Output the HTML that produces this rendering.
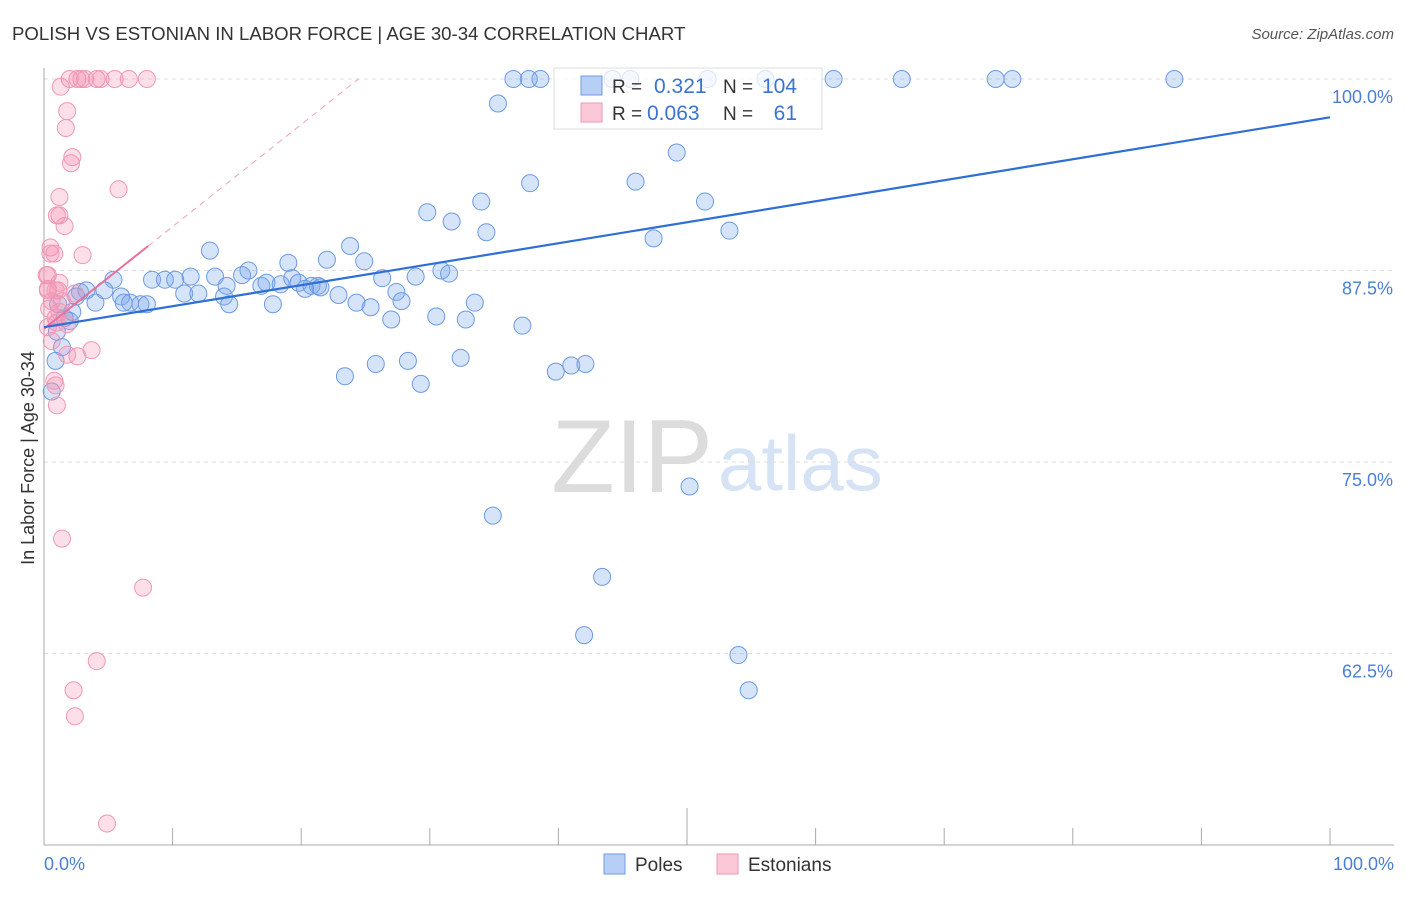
<!DOCTYPE html>
<html><head><meta charset="utf-8"><style>
body{margin:0;background:#fff;font-family:"Liberation Sans",sans-serif;}
svg text{font-family:"Liberation Sans",sans-serif;}
</style></head><body>
<svg id="chart" width="1406" height="892">
<text x="12" y="40" font-size="18.6" fill="#333">POLISH VS ESTONIAN IN LABOR FORCE | AGE 30-34 CORRELATION CHART</text>
<text x="1394" y="39" font-size="15" fill="#555" font-style="italic" text-anchor="end">Source: ZipAtlas.com</text>
<text x="713" y="492" font-size="104" fill="#dcdcdc" font-family="Liberation Serif" text-anchor="end">ZIP</text>
<text x="718" y="490" font-size="78" fill="#d6e3f5">atlas</text>
<g id="grid"></g>
<line x1="44" y1="68" x2="44" y2="845" stroke="#aaa"/>
<line x1="44" y1="845" x2="1394" y2="845" stroke="#aaa"/>
<text x="34" y="458" font-size="18" fill="#333" text-anchor="middle" transform="rotate(-90 34 458)">In Labor Force | Age 30-34</text>
<text x="44" y="870" font-size="18" fill="#4a7fd4">0.0%</text>
<text x="1394" y="870" font-size="18" fill="#4a7fd4" text-anchor="end">100.0%</text>
<g id="pts"></g>
<g id="trends"></g>
<g>
<rect x="554" y="68" width="268" height="61" fill="rgba(255,255,255,0.75)" stroke="#ddd"/>
<rect x="581" y="76" width="21" height="19" fill="#b7cff5" stroke="#6d9be3"/>
<rect x="581" y="103" width="21" height="19" fill="#fbc8d8" stroke="#f097b5"/>
<text x="612" y="93" font-size="19" fill="#333">R =</text>
<text x="654" y="93" font-size="21" fill="#3b73d1">0.321</text>
<text x="723" y="93" font-size="19" fill="#333">N =</text>
<text x="797" y="93" font-size="21" fill="#3b73d1" text-anchor="end">104</text>
<text x="612" y="120" font-size="19" fill="#333">R =</text>
<text x="647" y="120" font-size="21" fill="#3b73d1">0.063</text>
<text x="723" y="120" font-size="19" fill="#333">N =</text>
<text x="797" y="120" font-size="21" fill="#3b73d1" text-anchor="end">61</text>
</g>
<g>
<rect x="604" y="854" width="21" height="20" fill="#b7cff5" stroke="#6d9be3"/>
<text x="635" y="871" font-size="19" fill="#333">Poles</text>
<rect x="717" y="854" width="21" height="20" fill="#fbc8d8" stroke="#f097b5"/>
<text x="748" y="871" font-size="19" fill="#333">Estonians</text>
</g>
</svg>
<script>
const yTicks=[100,87.5,75,62.5];
const yTickLabels=["100.0%","87.5%","75.0%","62.5%"];
const xTicks=[0,10,20,30,40,50,60,70,80,90,100];
const polesX=[36.5,37.7,38.6,44.2,45.6,51.6,56.1,61.4,66.7,74,75.3,87.9,35.3,49.2,46,37.8,51.4,29.8,34,31.7,34.4,53.3,47.4,12.9,23.8,22,24.9,19,15.9,30.9,31.5,11.4,13.3,15.4,28.9,26.3,8.4,9.4,10.2,5.4,14.2,16.9,17.3,18.4,19.3,19.8,20.8,21.3,20.3,21.5,22.9,27.4,33.5,10.9,12,14,14.4,17.8,24.3,25.4,27.8,30.5,32.8,27,37.2,1,2,2.2,1.1,2.8,3.3,4.7,6,4,6.7,7.5,8,6.2,2.5,32.4,28.3,25.8,23.4,29.3,39.8,41,42.1,1.4,0.9,0.6,50.2,34.9,43.4,42,54,54.8,1.6];
const polesY=[100,100,100,100,100,100,100,100,100,100,100,100,98.4,95.2,93.3,93.2,92,91.3,92,90.7,90,90.1,89.6,88.8,89.1,88.2,88.1,88,87.5,87.5,87.3,87.1,87.1,87.2,87.1,87,86.9,86.9,86.9,86.9,86.5,86.5,86.7,86.6,87,86.7,86.5,86.5,86.3,86.4,85.9,86.1,85.4,86,86,85.8,85.3,85.3,85.4,85.1,85.5,84.5,84.3,84.3,83.9,83.5,84.2,84.8,85.3,86.1,86.2,86.2,85.8,85.4,85.4,85.3,85.3,85.4,85.8,81.8,81.6,81.4,80.6,80.1,80.9,81.3,81.4,82.5,81.6,79.6,73.4,71.5,67.5,63.7,62.4,60.1,84.4];
const estX=[2,2.6,2.9,3.2,4.1,4.4,5.5,6.6,8,1.3,1.8,1.7,2.2,2.1,5.8,1.2,1,1.2,1.6,0.5,0.8,3,0.3,1.2,0.3,0.9,0.6,1.4,0.4,0.9,1.2,0.3,1,1.8,0.6,3.7,2.6,1.8,0.8,0.9,1,1.4,7.7,4.1,2.3,2.4,4.9,0.3,1.1,2.4,0.2,0.5];
const estY=[100,100,100,100,100,100,100,100,100,99.5,97.9,96.8,94.9,94.5,92.8,92.3,91.1,91.1,90.4,89,88.6,88.5,87.2,86.7,86.2,86.2,85.5,85.5,85,84.4,84.8,83.8,84.1,84,82.9,82.3,81.9,82,80.3,80,78.7,70,66.8,62,60.1,58.4,51.4,86.3,86.2,86,87.2,88.6];
const trendPoles=[[0,83.8],[100,97.5]];
const trendEst=[[0,83.7],[8.1,89.1]];
const NS="http://www.w3.org/2000/svg";
const xs=v=>44+v*12.86, ys=v=>79+(100-v)*15.32;
function mk(t,a,p){const e=document.createElementNS(NS,t);for(const k in a)e.setAttribute(k,a[k]);p.appendChild(e);return e;}
const grid=document.getElementById('grid');
yTicks.forEach((t,i)=>{
 const l=mk('line',{x1:44,x2:1394,y1:ys(t),y2:ys(t),stroke:'#ddd','stroke-dasharray':'4,4'},grid);
 
 
 const tx=mk('text',{x:1393,y:ys(t)+24,'font-size':18,fill:'#4a7fd4','text-anchor':'end'},grid);
 tx.textContent=yTickLabels[i];
 
 
});
xTicks.forEach(t=>{
 const l=mk('line',{x1:xs(t),x2:xs(t),y1:t==50?808:828,y2:845,stroke:'#aaa'},grid);
 
 
});
const pts=document.getElementById('pts');
polesX.forEach((x,i)=>{
 const c=mk('circle',{cx:xs(x),cy:ys(polesY[i]),r:8.5,fill:'rgba(120,165,235,0.3)',stroke:'#6d9be3','stroke-width':1},pts);
 
 
});
estX.forEach((x,i)=>{
 const c=mk('circle',{cx:xs(x),cy:ys(estY[i]),r:8.5,fill:'rgba(245,150,180,0.3)',stroke:'#f097b5','stroke-width':1},pts);
 
 
});
const tr=document.getElementById('trends');
const slope=(trendEst[1][1]-trendEst[0][1])/(trendEst[1][0]-trendEst[0][0]);
const xEnd=(100-trendEst[0][1])/slope;
const d=mk('line',{x1:xs(trendEst[1][0]),y1:ys(trendEst[1][1]),x2:xs(xEnd),y2:ys(100),stroke:'#f0a0bb','stroke-dasharray':'6,5'},tr);


const te=mk('line',{x1:xs(trendEst[0][0]),y1:ys(trendEst[0][1]),x2:xs(trendEst[1][0]),y2:ys(trendEst[1][1]),stroke:'#e8709a','stroke-width':2},tr);


const tp=mk('line',{x1:xs(trendPoles[0][0]),y1:ys(trendPoles[0][1]),x2:xs(trendPoles[1][0]),y2:ys(trendPoles[1][1]),stroke:'#2e6fd6','stroke-width':2.2},tr);


</script>
</body></html>
